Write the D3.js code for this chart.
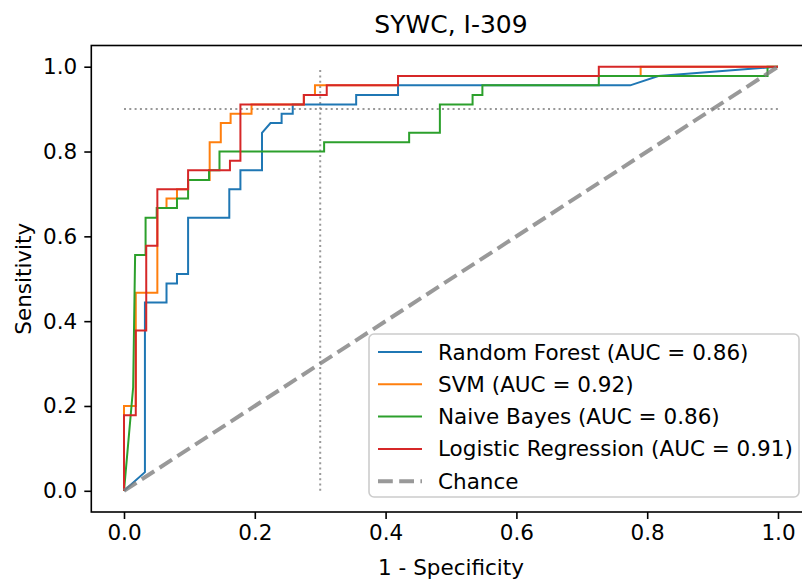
<!DOCTYPE html>
<html>
<head>
<meta charset="utf-8">
<script src="https://cdn.jsdelivr.net/npm/d3@7"></script>
<style>
    body { margin: 0; background: #fff; overflow: hidden; }
    svg { display: block; font-family: "DejaVu Sans", sans-serif; }
</style>
</head>
<body>
<div id="chart"></div>
<script>
// ROC points (1 - specificity, sensitivity)
const rfFpr = [0, 0.032, 0.032, 0.065, 0.065, 0.081, 0.081, 0.098, 0.098, 0.161, 0.161, 0.178, 0.178, 0.211, 0.211, 0.224, 0.241, 0.241, 0.258, 0.258, 0.355, 0.355, 0.419, 0.419, 0.774, 0.817, 1.0];
const rfTpr = [0, 0.044, 0.444, 0.444, 0.489, 0.489, 0.511, 0.511, 0.644, 0.644, 0.711, 0.711, 0.756, 0.756, 0.844, 0.867, 0.867, 0.889, 0.889, 0.911, 0.911, 0.933, 0.933, 0.956, 0.956, 0.978, 1.0];

const svmFpr = [0, 0, 0.018, 0.018, 0.051, 0.051, 0.065, 0.065, 0.081, 0.081, 0.098, 0.098, 0.131, 0.131, 0.148, 0.148, 0.163, 0.163, 0.195, 0.195, 0.275, 0.275, 0.292, 0.292, 0.419, 0.419, 0.79, 0.79, 1.0];
const svmTpr = [0, 0.2, 0.2, 0.467, 0.467, 0.667, 0.667, 0.689, 0.689, 0.711, 0.711, 0.733, 0.733, 0.822, 0.822, 0.867, 0.867, 0.889, 0.889, 0.911, 0.911, 0.933, 0.933, 0.956, 0.956, 0.978, 0.978, 1.0, 1.0];

const nbFpr = [0, 0.014, 0.017, 0.033, 0.033, 0.05, 0.05, 0.081, 0.081, 0.098, 0.098, 0.13, 0.13, 0.146, 0.146, 0.306, 0.306, 0.436, 0.436, 0.483, 0.483, 0.533, 0.533, 0.548, 0.548, 0.726, 0.726, 0.984, 0.984, 1.0];
const nbTpr = [0, 0.244, 0.556, 0.556, 0.644, 0.644, 0.667, 0.667, 0.689, 0.689, 0.733, 0.733, 0.756, 0.756, 0.8, 0.8, 0.822, 0.822, 0.844, 0.844, 0.911, 0.911, 0.933, 0.933, 0.956, 0.956, 0.978, 0.978, 1.0, 1.0];

const lrFpr = [0, 0, 0.018, 0.018, 0.034, 0.034, 0.051, 0.051, 0.098, 0.098, 0.162, 0.162, 0.178, 0.178, 0.275, 0.275, 0.31, 0.31, 0.419, 0.419, 0.726, 0.726, 1.0];
const lrTpr = [0, 0.178, 0.178, 0.378, 0.378, 0.578, 0.578, 0.711, 0.711, 0.756, 0.756, 0.778, 0.778, 0.911, 0.911, 0.933, 0.933, 0.956, 0.956, 0.978, 0.978, 1.0, 1.0];

const modelNames = ['Random Forest', 'SVM', 'Naive Bayes', 'Logistic Regression'];
const aucValues = [0.86, 0.92, 0.86, 0.91];
const tickValues = [0, 0.2, 0.4, 0.6, 0.8, 1.0];
const chanceLine = [0, 1];
const cutSensitivity = 0.9;
const cutFpr = 0.3;

const colors = ['#1f77b4', '#ff7f0e', '#2ca02c', '#d62728'];
const curves = [
    d3.zip(rfFpr, rfTpr),
    d3.zip(svmFpr, svmTpr),
    d3.zip(nbFpr, nbTpr),
    d3.zip(lrFpr, lrTpr)
];

// the figure is cut off on the right: the axes box runs past the picture edge
const W = 802, H = 584;
const margin = { top: 45.5, right: -8.7, bottom: 72, left: 91.3 };
const w = W - margin.left - margin.right;
const h = H - margin.top - margin.bottom;
const fontSize = '21.5px';

const svg = d3.select('#chart')
    .append('svg')
    .attr('width', W)
    .attr('height', H);

const g = svg.append('g')
    .attr('transform', `translate(${margin.left}, ${margin.top})`);

// scales, with matplotlib's 5% margins
const xScale = d3.scaleLinear().domain([-0.05, 1.05]).range([0, w]);
const yScale = d3.scaleLinear().domain([-0.05, 1.05]).range([h, 0]);

const line = d3.line()
    .x((d) => xScale(d[0]))
    .y((d) => yScale(d[1]));

// dotted cut-off guides
const guide = (x1, y1, x2, y2) => g.append('line')
    .attr('x1', xScale(x1)).attr('y1', yScale(y1))
    .attr('x2', xScale(x2)).attr('y2', yScale(y2))
    .attr('stroke', '#808080').attr('stroke-width', 2)
    .attr('stroke-dasharray', '2,3.3').attr('opacity', 0.8);
guide(0, cutSensitivity, 1, cutSensitivity);
guide(cutFpr, 0, cutFpr, 1);

// roc curves
g.selectAll('path.roc')
    .data(curves)
    .enter()
    .append('path')
    .attr('class', 'roc')
    .attr('d', line)
    .attr('fill', 'none')
    .attr('stroke', (d, i) => colors[i])
    .attr('stroke-width', 2);

// chance diagonal
g.append('path')
    .attr('d', line(chanceLine.map((v) => [v, v])))
    .attr('fill', 'none')
    .attr('stroke', '#808080')
    .attr('stroke-opacity', 0.8)
    .attr('stroke-width', 4)
    .attr('stroke-dasharray', '14.8,6.4');

// axes
const xAxis = d3.axisBottom(xScale).tickValues(tickValues).tickFormat(d3.format('.1f'))
    .tickSize(7).tickPadding(6);
const yAxis = d3.axisLeft(yScale).tickValues(tickValues).tickFormat(d3.format('.1f'))
    .tickSize(7).tickPadding(7);

g.append('g')
    .attr('transform', `translate(0, ${h})`)
    .call(xAxis);
g.append('g')
    .call(yAxis);

g.selectAll('.domain').remove();
g.selectAll('.tick line').attr('stroke', '#000').attr('stroke-width', 1.6);
g.selectAll('.tick text')
    .attr('fill', '#000')
    .style('font-family', '"DejaVu Sans", sans-serif')
    .style('font-size', fontSize);

// frame
g.append('rect')
    .attr('width', w).attr('height', h)
    .attr('fill', 'none')
    .attr('stroke', '#000')
    .attr('stroke-width', 1.6);

// labels
svg.append('text')
    .attr('x', margin.left + w / 2).attr('y', 33)
    .attr('text-anchor', 'middle')
    .style('font-size', '25px')
    .text('SYWC, I-309');
svg.append('text')
    .attr('x', margin.left + w / 2).attr('y', 575)
    .attr('text-anchor', 'middle')
    .style('font-size', fontSize)
    .text('1 - Specificity');
svg.append('text')
    .attr('transform', `translate(31, ${margin.top + h / 2}) rotate(-90)`)
    .attr('text-anchor', 'middle')
    .style('font-size', fontSize)
    .text('Sensitivity');

// legend, lower right
const legendItems = modelNames.map((n, i) => ({
    label: `${n} (AUC = ${aucValues[i].toFixed(2)})`,
    color: colors[i],
    dash: null,
    width: 2
}));
legendItems.push({ label: 'Chance', color: '#808080', dash: '14.8,6.4', width: 4 });

const legend = svg.append('g').attr('transform', 'translate(369, 334)');
legend.append('rect')
    .attr('width', 430).attr('height', 163)
    .attr('rx', 5)
    .attr('fill', '#fff').attr('fill-opacity', 0.8)
    .attr('stroke', '#ccc').attr('stroke-width', 1.6);

const rows = legend.selectAll('g.item')
    .data(legendItems)
    .enter()
    .append('g')
    .attr('class', 'item')
    .attr('transform', (d, i) => `translate(0, ${18 + i * 32.3})`);
rows.append('line')
    .attr('x1', 9).attr('x2', 53)
    .attr('stroke', (d) => d.color)
    .attr('stroke-width', (d) => d.width)
    .attr('stroke-opacity', (d) => d.dash ? 0.8 : 1)
    .attr('stroke-dasharray', (d) => d.dash);
rows.append('text')
    .attr('x', 69).attr('y', 7.5)
    .style('font-size', fontSize)
    .text((d) => d.label);
</script>
</body>
</html>
